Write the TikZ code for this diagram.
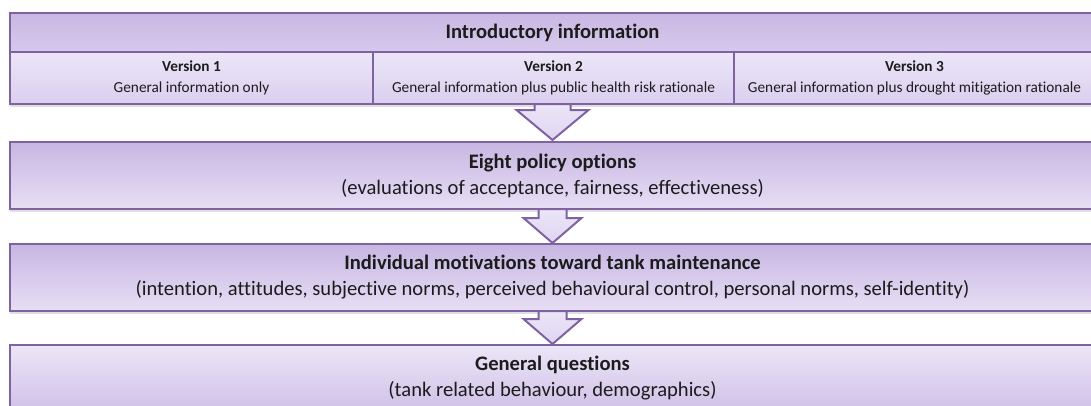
\documentclass[tikz,border=0pt]{standalone}
\usepackage{fontspec}
\setmainfont{Carlito}[Ligatures=NoCommon]
\usetikzlibrary{positioning,calc,shadows}

\definecolor{edge}{HTML}{7F63A1}
\definecolor{lavdark}{HTML}{C8B6E2}
\definecolor{lavmid}{HTML}{D6C9EC}
\definecolor{lavlight}{HTML}{ECE6F8}
\definecolor{ink}{HTML}{1C1C1C}

\tikzset{
  stage/.style={draw=edge, line width=2pt, outer sep=0pt, inner sep=0pt,
    minimum width=1085pt, minimum height=67pt, align=center, text=ink,
    top color=lavdark, bottom color=lavlight!85!lavdark,
    font=\fontsize{20.6}{26}\selectfont,
    drop shadow={shadow xshift=0pt, shadow yshift=-3pt, opacity=0.25}},
  version/.style={draw=edge, line width=1.6pt, outer sep=0pt, inner sep=0pt,
    minimum height=52pt, align=center, text=ink,
    top color=lavlight, bottom color=lavmid!80!lavlight,
    font=\fontsize{15.3}{21}\selectfont,
    drop shadow={shadow xshift=0pt, shadow yshift=-3pt, opacity=0.25}},
  flow/.style={draw=edge, line width=2pt, line join=miter,
    top color=lavlight, bottom color=lavmid!60!lavlight}
}

\begin{document}
\begin{tikzpicture}[x=1pt,y=1pt]
  \useasboundingbox (0,0) rectangle (1091,-405);

  % introductory block with the three versions
  \node[stage, minimum height=39pt, top color=lavdark!90!lavmid, bottom color=lavmid] (intro)
    at (552.5,-32.5) {\bfseries Introductory information};
  \node[version, minimum width=363pt, below right=0pt and 0pt of intro.south west] (v1)
    {\bfseries Version 1\\General information only};
  \node[version, minimum width=361pt, right=0pt of v1] (v2)
    {\bfseries Version 2\\General information plus public health risk rationale};
  \node[version, minimum width=361pt, right=0pt of v2] (v3)
    {\bfseries Version 3\\General information plus drought mitigation rationale};

  % survey sections
  \node[stage, below right=38pt and 0pt of v1.south west] (policy)
    {\bfseries Eight policy options\\(evaluations of acceptance, fairness, effectiveness)};
  \node[stage, below=35pt of policy] (motiv)
    {\bfseries Individual motivations toward tank maintenance\\(intention, attitudes, subjective norms, perceived behavioural control, personal norms, self-identity)};
  \node[stage, below=34pt of motiv, top color=lavlight, bottom color=lavdark!80!lavlight] (general)
    {\bfseries General questions\\(tank related behaviour, demographics)};

  % block arrows between the sections
  \draw[flow] ($(policy.north)+(0,2)$) -- ++(-36,30) -- ++(18,0) -- ++(0,6) -- ++(36,0) -- ++(0,-6) -- ++(18,0) -- cycle;
  \draw[flow] ($(motiv.north)+(0,1)$) -- ++(-29,25) -- ++(15,0) -- ++(0,9) -- ++(28,0) -- ++(0,-9) -- ++(15,0) -- cycle;
  \draw[flow] ($(general.north)+(0,1)$) -- ++(-29,25) -- ++(15,0) -- ++(0,8) -- ++(28,0) -- ++(0,-8) -- ++(15,0) -- cycle;
\end{tikzpicture}
\end{document}
